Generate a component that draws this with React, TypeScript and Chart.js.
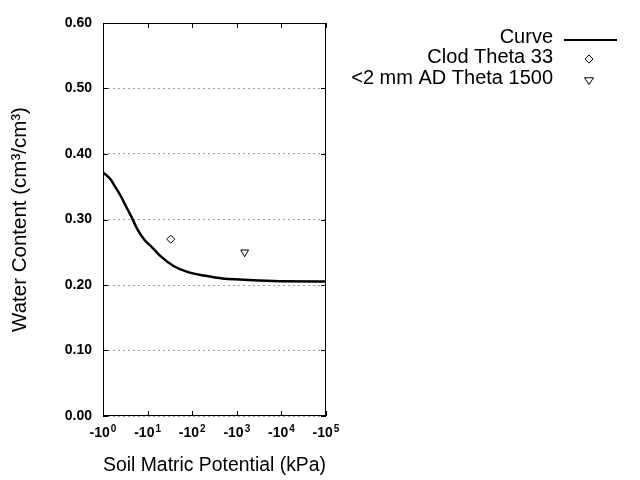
import React, { useEffect, useRef } from "react";
import { Chart, registerables } from "chart.js";

Chart.register(...registerables);

// Soil matric potential magnitudes (kPa, plotted as negative on a log axis)
const curveKPa = [1, 1.49, 1.77, 2.5, 3.25, 4.43, 5.93, 8.38, 12.9, 19.5, 39, 78, 186, 480, 1150, 9100, 100000];
const curveTheta = [0.372, 0.361, 0.3527, 0.3359, 0.3206, 0.3028, 0.2848, 0.2695, 0.2568, 0.244, 0.2286, 0.22, 0.2144, 0.2098, 0.2083, 0.2057, 0.2055];

const clodKPa = [33];
const clodTheta = [0.27];

const adKPa = [1500];
const adTheta = [0.25];

const xTickValues = [1, 10, 100, 1000, 10000, 100000];
const xTickBase = "-10";
const xTickExponents = ["0", "1", "2", "3", "4", "5"];
const yTickValues = [0, 0.1, 0.2, 0.3, 0.4, 0.5, 0.6];

const seriesNames = ["Curve", "Clod Theta 33", "<2 mm AD Theta 1500"];
const xTitle = "Soil Matric Potential (kPa)";
const yTitle = "Water Content (cm\u00B3/cm\u00B3)";

const FONT = "'Liberation Sans', Arial, sans-serif";

function drawMarker(ctx: CanvasRenderingContext2D, style: string, x: number, y: number, r: number, rot: number) {
  ctx.save();
  ctx.translate(x, y);
  ctx.rotate((rot * Math.PI) / 180);
  ctx.beginPath();
  if (style === "rectRot") {
    ctx.moveTo(0, -r);
    ctx.lineTo(r, 0);
    ctx.lineTo(0, r);
    ctx.lineTo(-r, 0);
    ctx.closePath();
  } else {
    ctx.moveTo(0, -r);
    ctx.lineTo(r, r * 0.5);
    ctx.lineTo(-r, r * 0.5);
    ctx.closePath();
  }
  ctx.strokeStyle = "#000";
  ctx.lineWidth = 1;
  ctx.stroke();
  ctx.restore();
}

const framePlugin = {
  id: "frame",
  beforeDatasetsDraw(chart: any) {
    const { ctx, chartArea, scales } = chart;
    const { left, right, top, bottom } = chartArea;
    ctx.save();
    ctx.strokeStyle = "#000";
    ctx.lineWidth = 1;
    ctx.setLineDash([]);
    ctx.strokeRect(left + 0.5, top + 0.5, right - left - 1, bottom - top - 1);
    const tl = 5;
    ctx.beginPath();
    for (const v of xTickValues) {
      const px = Math.round(scales.x.getPixelForValue(v)) + 0.5;
      ctx.moveTo(px, bottom);
      ctx.lineTo(px, bottom - tl);
      ctx.moveTo(px, top);
      ctx.lineTo(px, top + tl);
    }
    for (const v of yTickValues) {
      const py = Math.round(scales.y.getPixelForValue(v)) + 0.5;
      ctx.moveTo(left, py);
      ctx.lineTo(left + tl, py);
      ctx.moveTo(right, py);
      ctx.lineTo(right - tl, py);
    }
    ctx.stroke();
    ctx.restore();
  },
  afterDraw(chart: any) {
    const { ctx, scales, chartArea } = chart;
    ctx.save();
    // x tick labels with superscript exponents
    const baseFont = `bold 14px ${FONT}`;
    const expFont = `bold 10px ${FONT}`;
    const baseY = chartArea.bottom + 21;
    ctx.fillStyle = "#000";
    ctx.textBaseline = "alphabetic";
    ctx.textAlign = "left";
    xTickValues.forEach((v, i) => {
      const px = scales.x.getPixelForValue(v);
      ctx.font = baseFont;
      const wb = ctx.measureText(xTickBase).width;
      ctx.font = expFont;
      const we = ctx.measureText(xTickExponents[i]).width;
      const x0 = px - (wb + we + 1) / 2;
      ctx.font = baseFont;
      ctx.fillText(xTickBase, x0, baseY);
      ctx.font = expFont;
      ctx.fillText(xTickExponents[i], x0 + wb + 1, baseY - 5);
    });

    // legend
    const textRight = 553;
    const rows = [37, 57, 78];
    ctx.font = `20px ${FONT}`;
    ctx.textAlign = "right";
    ctx.textBaseline = "middle";
    seriesNames.forEach((name, i) => ctx.fillText(name, textRight, rows[i]));
    ctx.strokeStyle = "#000";
    ctx.lineWidth = 2;
    ctx.beginPath();
    ctx.moveTo(564, rows[0] + 3);
    ctx.lineTo(617, rows[0] + 3);
    ctx.stroke();
    const ds1 = chart.data.datasets[1];
    const ds2 = chart.data.datasets[2];
    drawMarker(ctx, ds1.pointStyle, 589, rows[1] + 2, ds1.pointRadius, 0);
    drawMarker(ctx, ds2.pointStyle, 589, rows[2] + 2, ds2.pointRadius, 180);
    ctx.restore();
  },
};

export default function App() {
  const ref = useRef<HTMLCanvasElement | null>(null);

  useEffect(() => {
    if (!ref.current) return;
    const chart = new Chart(ref.current, {
      type: "scatter",
      data: {
        datasets: [
          {
            type: "line",
            label: seriesNames[0],
            data: curveKPa.map((x, i) => ({ x, y: curveTheta[i] })),
            borderColor: "#000",
            borderWidth: 2.5,
            pointRadius: 0,
            fill: false,
            cubicInterpolationMode: "monotone",
          },
          {
            label: seriesNames[1],
            data: clodKPa.map((x, i) => ({ x, y: clodTheta[i] })),
            pointStyle: "rectRot",
            pointRadius: 4,
            borderColor: "#000",
            backgroundColor: "rgba(0,0,0,0)",
            borderWidth: 1,
          },
          {
            label: seriesNames[2],
            data: adKPa.map((x, i) => ({ x, y: adTheta[i] })),
            pointStyle: "triangle",
            pointRotation: 180,
            pointRadius: 4.5,
            borderColor: "#000",
            backgroundColor: "rgba(0,0,0,0)",
            borderWidth: 1,
          },
        ],
      } as any,
      options: {
        animation: false,
        responsive: false,
        maintainAspectRatio: false,
        layout: { padding: { left: 0, top: 23, right: 314, bottom: 0 } },
        plugins: {
          legend: { display: false },
          tooltip: { enabled: false },
        },
        scales: {
          x: {
            type: "logarithmic",
            min: 1,
            max: 100000,
            afterBuildTicks: (s: any) => {
              s.ticks = xTickValues.map((v) => ({ value: v }));
            },
            afterFit: (s: any) => {
              s.height = 64;
            },
            grid: { display: false, drawTicks: false },
            border: { display: false },
            ticks: { display: false },
            title: {
              display: true,
              text: xTitle,
              color: "#000",
              font: { family: FONT, size: 20.5 },
              padding: { top: 0, bottom: 2 },
            },
          },
          y: {
            type: "linear",
            min: 0,
            max: 0.6,
            afterBuildTicks: (s: any) => {
              s.ticks = yTickValues.map((v) => ({ value: v }));
            },
            afterFit: (s: any) => {
              s.width = 103;
            },
            grid: {
              color: "#a0a0a0",
              lineWidth: 1,
              drawTicks: false,
            },
            border: { display: false, dash: [2, 3] },
            ticks: {
              color: "#000",
              padding: 11,
              font: { family: FONT, size: 14, weight: "bold" },
              callback: (v: any) => Number(v).toFixed(2),
            },
            title: {
              display: true,
              text: yTitle,
              color: "#000",
              font: { family: FONT, size: 20.5 },
              padding: { top: 8, bottom: 0 },
            },
          },
        },
      } as any,
      plugins: [framePlugin],
    });
    return () => chart.destroy();
  }, []);

  return (
    <div style={{ position: "fixed", left: 0, top: 0, width: 640, height: 480, background: "#fff" }}>
      <canvas ref={ref} width={640} height={480} style={{ width: 640, height: 480, display: "block" }} />
    </div>
  );
}
